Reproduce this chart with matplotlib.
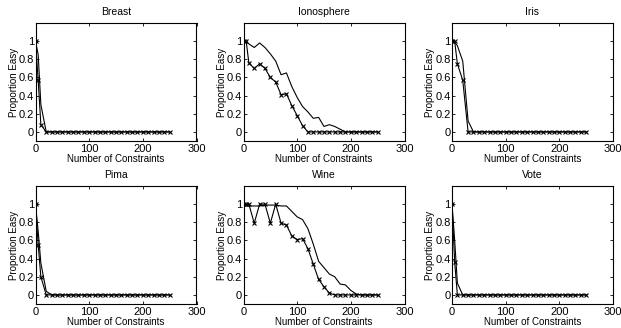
import matplotlib.pyplot as plt
import numpy as np

plt.rcParams['font.family'] = ['Liberation Sans', 'DejaVu Sans']
plt.rcParams['font.size'] = 7

# number of constraints (shared x grid)
x = [0, 5, 10] + list(range(20, 251, 10))
n = len(x)

# marker series (x marks) and solid series for each dataset
breast_x = [1.0, 0.57, 0.08] + [0.0] * (n - 3)
breast_s = [1.0, 0.85, 0.3, 0.0] + [0.0] * (n - 4)

iono_x = [1.0, 1.0, 0.76, 0.70, 0.75, 0.70, 0.60, 0.55, 0.41, 0.42, 0.29, 0.18,
          0.07, 0.0] + [0.0] * (n - 14)
iono_s = [1.0, 0.99, 0.97, 0.93, 0.98, 0.93, 0.86, 0.78, 0.63, 0.65, 0.50, 0.38,
          0.28, 0.22, 0.15, 0.16, 0.06, 0.08, 0.06, 0.03, 0.0] + [0.0] * (n - 21)

iris_x = [1.0, 1.0, 0.75, 0.57, 0.0] + [0.0] * (n - 5)
iris_s = [1.0, 0.99, 0.95, 0.78, 0.12, 0.0] + [0.0] * (n - 6)

pima_x = [1.0, 0.55, 0.2, 0.0] + [0.0] * (n - 4)
pima_s = [1.0, 0.7, 0.35, 0.04, 0.0] + [0.0] * (n - 5)

wine_x = [1.0, 1.0, 1.0, 0.79, 1.0, 1.0, 0.79, 1.0, 0.79, 0.77, 0.65, 0.61, 0.62,
          0.51, 0.34, 0.17, 0.09, 0.02, 0.0] + [0.0] * (n - 19)
wine_s = [0.98, 0.98, 0.98, 0.98, 0.98, 0.99, 0.99, 0.99, 0.98, 0.98, 0.92, 0.86,
          0.83, 0.73, 0.56, 0.37, 0.30, 0.23, 0.20, 0.12, 0.11, 0.05, 0.01,
          0.0] + [0.0] * (n - 24)

vote_x = [1.0, 0.36, 0.0] + [0.0] * (n - 3)
vote_s = [1.0, 0.6, 0.13, 0.0] + [0.0] * (n - 4)

titles = ['Breast', 'Ionosphere', 'Iris', 'Pima', 'Wine', 'Vote']
marked = [breast_x, iono_x, iris_x, pima_x, wine_x, vote_x]
solid = [breast_s, iono_s, iris_s, pima_s, wine_s, vote_s]

fig = plt.figure(figsize=(6.21, 3.28), dpi=100)

lefts = [35.5, 243.5, 452.0]
tops = [23.0, 186.0]
W, H = 621.0, 328.0
aw, ah = 161.0, 118.0

for i, title in enumerate(titles):
    r, c = divmod(i, 3)
    ax = fig.add_axes([lefts[c] / W, 1 - (tops[r] + ah) / H, aw / W, ah / H])
    ax.plot(x, solid[i], color='black', linewidth=0.8)
    ax.plot(x, marked[i], color='black', linewidth=0.8, marker='x',
            markersize=3.5, markeredgewidth=0.8)
    ax.set_xlim(0, 300)
    ax.set_ylim(-0.1, 1.2)
    ax.set_xticks([0, 100, 200, 300])
    ax.set_yticks([0, 0.2, 0.4, 0.6, 0.8, 1])
    ax.set_yticklabels(['0', '0.2', '0.4', '0.6', '0.8', '1'])
    ax.tick_params(direction='in', top=True, right=True, length=2.5, width=0.6,
                   labelsize=8, pad=1)
    ax.tick_params(axis='x', pad=2)
    for s in ax.spines.values():
        s.set_linewidth(0.8)
    ax.set_title(title, fontsize=7.5, pad=6)
    ax.set_xlabel('Number of Constraints', labelpad=0)
    ax.set_ylabel('Proportion Easy', labelpad=0)

fig.savefig('out.png', dpi=100)
